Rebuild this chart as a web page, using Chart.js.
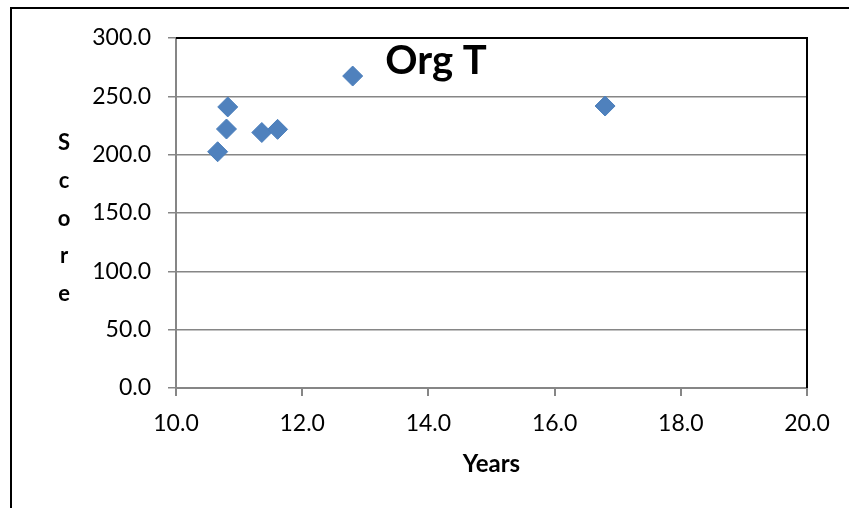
<!DOCTYPE html>
<html>
<head>
<meta charset="utf-8">
<script src="https://cdn.jsdelivr.net/npm/chart.js@4/dist/chart.umd.min.js"></script>
<style>
  html, body { margin: 0; padding: 0; background: #fff; overflow: hidden; }
  #wrap { position: relative; width: 849px; height: 508px; }
  #frame { position: absolute; left: 10px; top: 7px; width: 900px; height: 600px; border: 2px solid #000; box-sizing: border-box; pointer-events: none; }
  canvas { position: absolute; left: 0; top: 0; }
</style>
</head>
<body>
<div id="wrap">
  <canvas id="c" width="849" height="508"></canvas>
  <div id="frame"></div>
</div>
<script>
const chartTitle = "Org T";
const xAxisTitle = "Years";
const yAxisTitle = "Score";
const years  = [10.66, 10.80, 10.82, 11.36, 11.61, 12.80, 16.80];
const scores = [202.5, 222.0, 240.9, 219.0, 221.7, 267.4, 241.7];
const xTicks = [10, 12, 14, 16, 18, 20];
const yTicks = [0, 50, 100, 150, 200, 250, 300];

const points = years.map((x, i) => ({ x: x, y: scores[i] }));

const overlay = {
  id: 'overlay',
  afterDraw(chart) {
    const ctx = chart.ctx;
    const a = chart.chartArea;
    ctx.save();
    ctx.strokeStyle = '#000';
    ctx.lineWidth = 2;
    ctx.beginPath();
    ctx.moveTo(a.left, a.top);
    ctx.lineTo(a.right, a.top);
    ctx.lineTo(a.right, a.bottom);
    ctx.stroke();
    ctx.fillStyle = '#000';
    ctx.font = 'bold 40px Lato, "DejaVu Sans", sans-serif';
    ctx.textAlign = 'center';
    ctx.textBaseline = 'middle';
    ctx.fillText(chartTitle, a.left + (a.right - a.left) * 0.412, a.top + 23);
    ctx.font = 'bold 22px Lato, "DejaVu Sans", sans-serif';
    const letters = yAxisTitle.split('');
    const step = 37.7;
    const startY = 218.5 - step * (letters.length - 1) / 2;
    letters.forEach((ch, i) => {
      ctx.fillText(ch, 64, startY + i * step);
    });
    ctx.restore();
  }
};

new Chart(document.getElementById('c'), {
  type: 'scatter',
  data: {
    datasets: [{
      data: points,
      pointStyle: 'rectRot',
      pointRadius: 10,
      pointHoverRadius: 10,
      backgroundColor: '#4F81BD',
      borderColor: '#4A7EBB',
      borderWidth: 1
    }]
  },
  options: {
    responsive: false,
    animation: false,
    events: [],
    layout: { padding: { left: 0, top: 38, right: 42, bottom: 0 } },
    plugins: { legend: { display: false }, tooltip: { enabled: false }, title: { display: false } },
    scales: {
      x: {
        type: 'linear',
        min: 10, max: 20,
        afterBuildTicks(scale) { scale.ticks = xTicks.map(v => ({ value: v })); },
        afterFit(scale) { scale.height = 120; },
        border: { display: true, color: '#868686', width: 2 },
        grid: { drawOnChartArea: false, drawTicks: true, tickLength: 8, color: '#868686', lineWidth: 2 },
        ticks: { color: '#000', padding: 14, font: { family: 'Lato', size: 23 }, callback: v => Number(v).toFixed(1), maxRotation: 0 },
        title: { display: true, text: xAxisTitle, color: '#000', font: { family: 'Lato', size: 24, weight: 'bold' }, padding: { top: 0, bottom: 29 } }
      },
      y: {
        type: 'linear',
        min: 0, max: 300,
        afterBuildTicks(scale) { scale.ticks = yTicks.map(v => ({ value: v })); },
        afterFit(scale) { scale.width = 176; },
        border: { display: true, color: '#868686', width: 2 },
        grid: { drawTicks: true, tickLength: 8, color: '#868686', lineWidth: 1.5 },
        ticks: { color: '#000', padding: 17, font: { family: 'Lato', size: 23 }, callback: v => Number(v).toFixed(1) }
      }
    }
  },
  plugins: [overlay]
});
</script>
</body>
</html>
